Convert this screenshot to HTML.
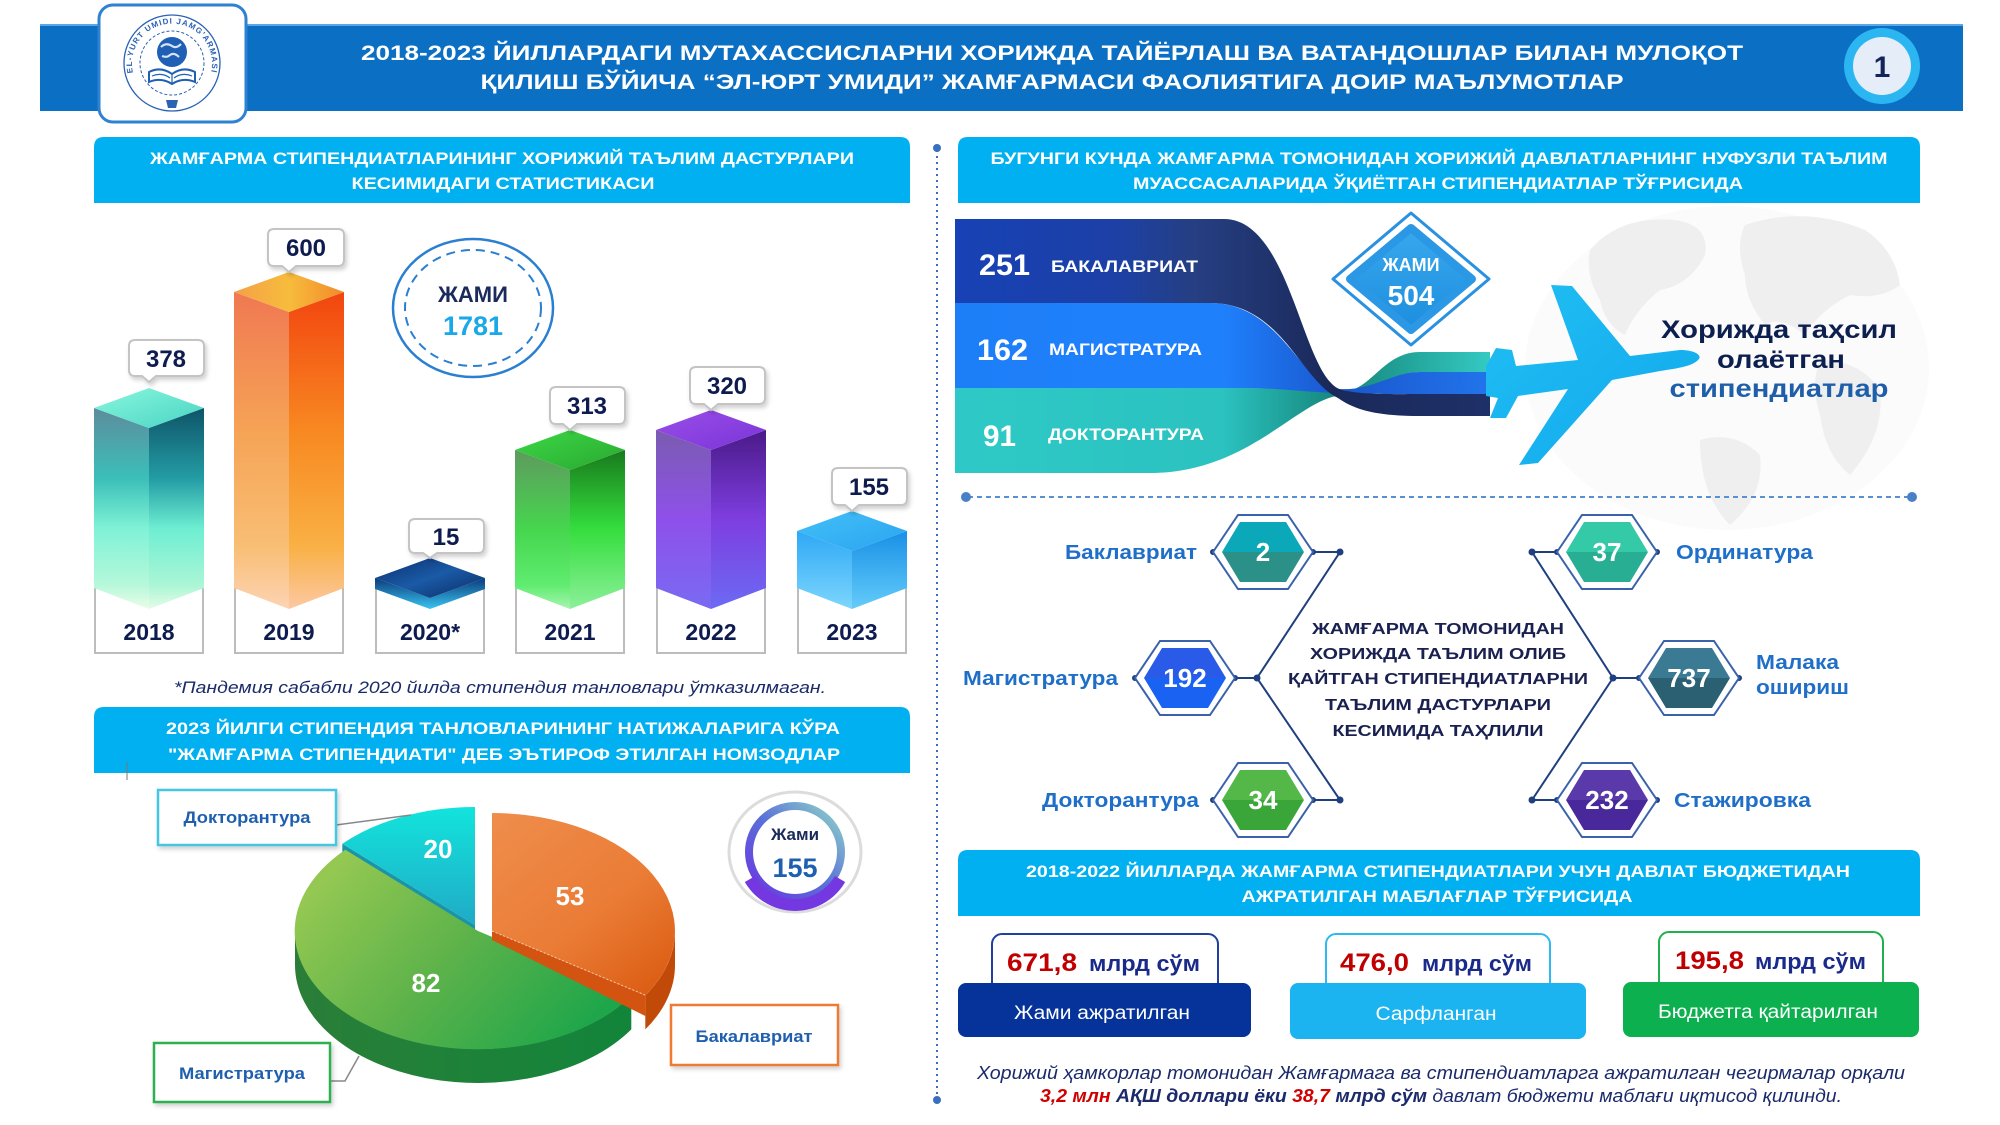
<!DOCTYPE html>
<html><head><meta charset="utf-8">
<style>
html,body{margin:0;padding:0;background:#fff;}
svg{display:block;}
text{font-family:"Liberation Sans","DejaVu Sans",sans-serif;}
</style></head><body>
<svg width="2000" height="1125" viewBox="0 0 2000 1125" xmlns="http://www.w3.org/2000/svg">
<defs>
  <linearGradient id="g18l" x1="0" y1="0" x2="0" y2="1"><stop offset="0" stop-color="#5d8c9c"/><stop offset="0.35" stop-color="#3bbfb8"/><stop offset="0.6" stop-color="#7ff2d6"/><stop offset="0.88" stop-color="#b6f8da"/><stop offset="1" stop-color="#eafde8"/></linearGradient>
  <linearGradient id="g18r" x1="0" y1="0" x2="0" y2="1"><stop offset="0" stop-color="#0e5468"/><stop offset="0.35" stop-color="#239ca4"/><stop offset="0.6" stop-color="#6eeed2"/><stop offset="0.88" stop-color="#aaf6d6"/><stop offset="1" stop-color="#e4fce6"/></linearGradient>
  <linearGradient id="g18t" x1="0" y1="0" x2="1" y2="1"><stop offset="0" stop-color="#8af7de"/><stop offset="1" stop-color="#48d4c4"/></linearGradient>

  <linearGradient id="g19l" x1="0" y1="0" x2="0" y2="1"><stop offset="0" stop-color="#f07852"/><stop offset="0.45" stop-color="#f6a456"/><stop offset="0.8" stop-color="#f8be74"/><stop offset="1" stop-color="#fdd3b3"/></linearGradient>
  <linearGradient id="g19r" x1="0" y1="0" x2="0" y2="1"><stop offset="0" stop-color="#f2450f"/><stop offset="0.45" stop-color="#f88a22"/><stop offset="0.8" stop-color="#f9b044"/><stop offset="1" stop-color="#fcc8a2"/></linearGradient>
  <linearGradient id="g19t" x1="0" y1="0" x2="1" y2="0"><stop offset="0" stop-color="#f4a048"/><stop offset="0.5" stop-color="#f7bc3c"/><stop offset="1" stop-color="#f28a2a"/></linearGradient>

  <linearGradient id="g21l" x1="0" y1="0" x2="0" y2="1"><stop offset="0" stop-color="#5e9a5e"/><stop offset="0.5" stop-color="#46d64e"/><stop offset="0.85" stop-color="#60ec70"/><stop offset="1" stop-color="#a8f4b0"/></linearGradient>
  <linearGradient id="g21r" x1="0" y1="0" x2="0" y2="1"><stop offset="0" stop-color="#187a1c"/><stop offset="0.5" stop-color="#35de3e"/><stop offset="1" stop-color="#8cf09a"/></linearGradient>
  <linearGradient id="g21t" x1="0" y1="0" x2="1" y2="1"><stop offset="0" stop-color="#3cd846"/><stop offset="1" stop-color="#2aa830"/></linearGradient>

  <linearGradient id="g22l" x1="0" y1="0" x2="0" y2="1"><stop offset="0" stop-color="#7a5cb0"/><stop offset="0.5" stop-color="#8e50ea"/><stop offset="1" stop-color="#7a6af2"/></linearGradient>
  <linearGradient id="g22r" x1="0" y1="0" x2="0" y2="1"><stop offset="0" stop-color="#4a1a88"/><stop offset="0.5" stop-color="#7e3ee0"/><stop offset="1" stop-color="#6c6af4"/></linearGradient>
  <linearGradient id="g22t" x1="0" y1="0" x2="1" y2="1"><stop offset="0" stop-color="#9a4ee8"/><stop offset="1" stop-color="#7a34d8"/></linearGradient>

  <linearGradient id="g23l" x1="0" y1="0" x2="0" y2="1"><stop offset="0" stop-color="#2ea8f6"/><stop offset="1" stop-color="#7cd6fc"/></linearGradient>
  <linearGradient id="g23r" x1="0" y1="0" x2="0" y2="1"><stop offset="0" stop-color="#1890e6"/><stop offset="1" stop-color="#64ccfa"/></linearGradient>
  <linearGradient id="g23t" x1="0" y1="0" x2="1" y2="1"><stop offset="0" stop-color="#44c0f8"/><stop offset="1" stop-color="#2aa4f0"/></linearGradient>

  <linearGradient id="g20t" x1="0" y1="0" x2="1" y2="1"><stop offset="0" stop-color="#0a2f6e"/><stop offset="0.5" stop-color="#1a5aa6"/><stop offset="1" stop-color="#0a2a62"/></linearGradient>
  <linearGradient id="g20s" x1="0" y1="0" x2="0" y2="1"><stop offset="0" stop-color="#0c3a7a"/><stop offset="1" stop-color="#38c4f2"/></linearGradient>

  <linearGradient id="pOr" gradientUnits="userSpaceOnUse" x1="492" y1="813" x2="640" y2="1000"><stop offset="0" stop-color="#ef8d4c"/><stop offset="0.6" stop-color="#ea7c36"/><stop offset="1" stop-color="#dc5e14"/></linearGradient>
  <linearGradient id="pGr" gradientUnits="userSpaceOnUse" x1="340" y1="860" x2="560" y2="1060"><stop offset="0" stop-color="#94c852"/><stop offset="0.5" stop-color="#5cb24a"/><stop offset="1" stop-color="#1ea64a"/></linearGradient>
  <linearGradient id="pGs" x1="0" y1="0" x2="1" y2="0"><stop offset="0" stop-color="#2a7e38"/><stop offset="1" stop-color="#12853a"/></linearGradient>
  <linearGradient id="pCy" gradientUnits="userSpaceOnUse" x1="0" y1="807" x2="0" y2="925"><stop offset="0" stop-color="#12e4dc"/><stop offset="1" stop-color="#20aac6"/></linearGradient>
  <linearGradient id="ring" x1="0" y1="1" x2="1" y2="0"><stop offset="0" stop-color="#6a34e2"/><stop offset="0.5" stop-color="#5a70d8"/><stop offset="1" stop-color="#8fd6c8"/></linearGradient>

  <linearGradient id="sNv" gradientUnits="userSpaceOnUse" x1="955" y1="0" x2="1490" y2="0"><stop offset="0" stop-color="#1741b5"/><stop offset="0.3" stop-color="#1c40a6"/><stop offset="0.45" stop-color="#263f82"/><stop offset="0.7" stop-color="#1a295a"/><stop offset="1" stop-color="#1e3068"/></linearGradient>
  <linearGradient id="sBl" gradientUnits="userSpaceOnUse" x1="955" y1="0" x2="1490" y2="0"><stop offset="0" stop-color="#1d7ff8"/><stop offset="0.5" stop-color="#1f80fc"/><stop offset="0.72" stop-color="#1a56cc"/><stop offset="1" stop-color="#2274ec"/></linearGradient>
  <linearGradient id="sTl" gradientUnits="userSpaceOnUse" x1="955" y1="0" x2="1490" y2="0"><stop offset="0" stop-color="#2ec9c6"/><stop offset="0.5" stop-color="#2bc2c0"/><stop offset="0.72" stop-color="#15857a"/><stop offset="1" stop-color="#34cac2"/></linearGradient>
  <linearGradient id="plane" x1="0" y1="0" x2="1" y2="1"><stop offset="0" stop-color="#20bff4"/><stop offset="1" stop-color="#12a8ec"/></linearGradient>
  <linearGradient id="dia" x1="0" y1="0" x2="0" y2="1"><stop offset="0" stop-color="#38a8ee"/><stop offset="1" stop-color="#1d8ede"/></linearGradient>

  <path id="logoArc" d="M137,83 A40,40 0 1 1 207,83" fill="none"/>
  <filter id="sh" x="-10%" y="-10%" width="130%" height="140%"><feDropShadow dx="2" dy="3" stdDeviation="2" flood-color="#000" flood-opacity="0.18"/></filter>
</defs>

<rect width="2000" height="1125" fill="#fff"/>

<!-- HEADER -->
<rect x="40" y="24" width="1923" height="87" fill="#0b6fc4"/>
<rect x="40" y="24" width="1923" height="2" fill="#5aa8e8"/>
<rect x="99" y="5" width="147" height="117" rx="14" fill="#fff" stroke="#2f82d2" stroke-width="3"/>
<circle cx="172" cy="63" r="48" fill="none" stroke="#2a62b4" stroke-width="1.3"/>
<circle cx="172" cy="63" r="32" fill="none" stroke="#2a62b4" stroke-width="1" stroke-dasharray="3 2"/>
<text font-size="8" font-weight="bold" fill="#2a62b4" letter-spacing="1"><textPath href="#logoArc" startOffset="50%" text-anchor="middle">EL-YURT UMIDI JAMG'ARMASI</textPath></text>
<circle cx="172" cy="52" r="15" fill="#1f5fb5"/>
<path d="M161,47 q5,-5 11,-1 q4,3 9,-2 M162,56 q5,2 8,-1 q4,-3 9,2" stroke="#d6e4f6" fill="none" stroke-width="2.2"/>
<path d="M149,72 Q161,66 172,74 Q183,66 195,72 L195,82 Q183,77 172,84 Q161,77 149,82 Z" fill="#fff" stroke="#1f5fb5" stroke-width="2"/>
<path d="M172,74 V84 M152,76 Q162,72 170,78 M174,78 Q182,72 192,76" stroke="#1f5fb5" fill="none" stroke-width="1.2"/>
<path d="M166,100 h12 l-2,8 h-8 z" fill="#2a62b4"/>

<text x="1052" y="60" text-anchor="middle" font-size="21" font-weight="bold" fill="#fff" textLength="1382" lengthAdjust="spacingAndGlyphs">2018-2023 ЙИЛЛАРДАГИ МУТАХАССИСЛАРНИ ХОРИЖДА ТАЙЁРЛАШ ВА ВАТАНДОШЛАР БИЛАН МУЛОҚОТ</text>
<text x="1052" y="89" text-anchor="middle" font-size="21" font-weight="bold" fill="#fff" textLength="1143" lengthAdjust="spacingAndGlyphs">ҚИЛИШ БЎЙИЧА “ЭЛ-ЮРТ УМИДИ” ЖАМҒАРМАСИ ФАОЛИЯТИГА ДОИР МАЪЛУМОТЛАР</text>

<circle cx="1882" cy="66" r="38" fill="#2bb6f2"/>
<circle cx="1882" cy="66" r="29" fill="#e4edf8"/>
<text x="1882" y="77" text-anchor="middle" font-size="30" font-weight="bold" fill="#13245a">1</text>

<!-- SECTION HEADERS -->
<path d="M94,203 V147 Q94,137 104,137 H900 Q910,137 910,147 V203 Z" fill="#00b0f0"/>
<text x="502" y="164" text-anchor="middle" font-size="17" font-weight="bold" fill="#fff" textLength="704" lengthAdjust="spacingAndGlyphs">ЖАМҒАРМА СТИПЕНДИАТЛАРИНИНГ ХОРИЖИЙ ТАЪЛИМ ДАСТУРЛАРИ</text>
<text x="503" y="189" text-anchor="middle" font-size="17" font-weight="bold" fill="#fff" textLength="303" lengthAdjust="spacingAndGlyphs">КЕСИМИДАГИ СТАТИСТИКАСИ</text>

<path d="M94,773 V717 Q94,707 104,707 H900 Q910,707 910,717 V773 Z" fill="#00b0f0"/>
<text x="503" y="734" text-anchor="middle" font-size="17" font-weight="bold" fill="#fff" textLength="674" lengthAdjust="spacingAndGlyphs">2023 ЙИЛГИ СТИПЕНДИЯ  ТАНЛОВЛАРИНИНГ  НАТИЖАЛАРИГА  КЎРА</text>
<text x="504" y="760" text-anchor="middle" font-size="17" font-weight="bold" fill="#fff" textLength="672" lengthAdjust="spacingAndGlyphs">"ЖАМҒАРМА СТИПЕНДИАТИ"  ДЕБ ЭЪТИРОФ ЭТИЛГАН НОМЗОДЛАР</text>
<line x1="127" y1="762" x2="127" y2="780" stroke="#777" stroke-width="1"/>

<path d="M958,203 V147 Q958,137 968,137 H1910 Q1920,137 1920,147 V203 Z" fill="#00b0f0"/>
<text x="1439" y="164" text-anchor="middle" font-size="17" font-weight="bold" fill="#fff" textLength="897" lengthAdjust="spacingAndGlyphs">БУГУНГИ КУНДА ЖАМҒАРМА ТОМОНИДАН ХОРИЖИЙ ДАВЛАТЛАРНИНГ НУФУЗЛИ ТАЪЛИМ</text>
<text x="1438" y="189" text-anchor="middle" font-size="17" font-weight="bold" fill="#fff" textLength="610" lengthAdjust="spacingAndGlyphs">МУАССАСАЛАРИДА ЎҚИЁТГАН СТИПЕНДИАТЛАР ТЎҒРИСИДА</text>

<path d="M958,916 V860 Q958,850 968,850 H1910 Q1920,850 1920,860 V916 Z" fill="#00b0f0"/>
<text x="1438" y="877" text-anchor="middle" font-size="17" font-weight="bold" fill="#fff" textLength="824" lengthAdjust="spacingAndGlyphs">2018-2022 ЙИЛЛАРДА ЖАМҒАРМА СТИПЕНДИАТЛАРИ УЧУН ДАВЛАТ БЮДЖЕТИДАН</text>
<text x="1437" y="902" text-anchor="middle" font-size="17" font-weight="bold" fill="#fff" textLength="391" lengthAdjust="spacingAndGlyphs">АЖРАТИЛГАН МАБЛАҒЛАР ТЎҒРИСИДА</text>

<!-- divider -->
<line x1="937" y1="150" x2="937" y2="1098" stroke="#3a6fc0" stroke-width="2" stroke-dasharray="2 4"/>
<circle cx="937" cy="148" r="4" fill="#3a6fc0"/>
<circle cx="937" cy="1100" r="4" fill="#3a6fc0"/>

<!-- BAR CHART -->
<g fill="#fff" stroke="#bdbdbd" stroke-width="2">
  <rect x="95" y="588" width="108" height="65"/>
  <rect x="235" y="588" width="108" height="65"/>
  <rect x="376" y="588" width="108" height="65"/>
  <rect x="516" y="588" width="108" height="65"/>
  <rect x="657" y="588" width="108" height="65"/>
  <rect x="798" y="588" width="108" height="65"/>
</g>
<polygon points="94,408 149,428 149,609 94,588" fill="url(#g18l)"/>
<polygon points="149,428 204,408 204,588 149,609" fill="url(#g18r)"/>
<polygon points="149,388 204,408 149,428 94,408" fill="url(#g18t)"/>
<polygon points="234,292 289,312 289,609 234,588" fill="url(#g19l)"/>
<polygon points="289,312 344,292 344,588 289,609" fill="url(#g19r)"/>
<polygon points="289,272 344,292 289,312 234,292" fill="url(#g19t)"/>
<polygon points="375,578 430,598 430,609 375,589" fill="url(#g20s)"/>
<polygon points="430,598 485,578 485,589 430,609" fill="url(#g20s)"/>
<polygon points="430,558 485,578 430,598 375,578" fill="url(#g20t)"/>
<polygon points="515,450 570,470 570,609 515,588" fill="url(#g21l)"/>
<polygon points="570,470 625,450 625,588 570,609" fill="url(#g21r)"/>
<polygon points="570,430 625,450 570,470 515,450" fill="url(#g21t)"/>
<polygon points="656,430 711,450 711,609 656,588" fill="url(#g22l)"/>
<polygon points="711,450 766,430 766,588 711,609" fill="url(#g22r)"/>
<polygon points="711,410 766,430 711,450 656,430" fill="url(#g22t)"/>
<polygon points="797,531 852,551 852,609 797,588" fill="url(#g23l)"/>
<polygon points="852,551 907,531 907,588 852,609" fill="url(#g23r)"/>
<polygon points="852,511 907,531 852,551 797,531" fill="url(#g23t)"/>

<g fill="#fff" stroke="#c4c4c4" stroke-width="2" filter="url(#sh)">
  <path d="M135,340 H198 Q204,340 204,346 V370 Q204,376 198,376 H156 L149,382 L142,376 H135 Q129,376 129,370 V346 Q129,340 135,340 Z"/>
  <path d="M274,229 H338 Q344,229 344,235 V260 Q344,266 338,266 H296 L289,272 L282,266 H274 Q268,266 268,260 V235 Q268,229 274,229 Z"/>
  <path d="M415,519 H478 Q484,519 484,525 V547 Q484,553 478,553 H437 L430,558 L423,553 H415 Q409,553 409,547 V525 Q409,519 415,519 Z"/>
  <path d="M556,387 H619 Q625,387 625,393 V418 Q625,424 619,424 H577 L570,430 L563,424 H556 Q550,424 550,418 V393 Q550,387 556,387 Z"/>
  <path d="M696,367 H759 Q765,367 765,373 V398 Q765,404 759,404 H718 L711,410 L704,404 H696 Q690,404 690,398 V373 Q690,367 696,367 Z"/>
  <path d="M838,468 H901 Q907,468 907,474 V499 Q907,505 901,505 H859 L852,511 L845,505 H838 Q832,505 832,499 V474 Q832,468 838,468 Z"/>
</g>
<g font-size="24" font-weight="bold" fill="#0d1b4f" text-anchor="middle">
  <text x="166" y="367">378</text>
  <text x="306" y="256">600</text>
  <text x="446" y="545">15</text>
  <text x="587" y="414">313</text>
  <text x="727" y="394">320</text>
  <text x="869" y="495">155</text>
</g>
<g font-size="23" font-weight="bold" fill="#0d1b4f" text-anchor="middle">
  <text x="149" y="640">2018</text>
  <text x="289" y="640">2019</text>
  <text x="430" y="640">2020*</text>
  <text x="570" y="640">2021</text>
  <text x="711" y="640">2022</text>
  <text x="852" y="640">2023</text>
</g>

<ellipse cx="473" cy="308" rx="80" ry="69" fill="#fff" stroke="#2a7fd0" stroke-width="2.5"/>
<ellipse cx="473" cy="308" rx="68" ry="58" fill="none" stroke="#2a7fd0" stroke-width="2" stroke-dasharray="9 6"/>
<text x="473" y="302" text-anchor="middle" font-size="22" font-weight="bold" fill="#1a2a5a">ЖАМИ</text>
<text x="473" y="335" text-anchor="middle" font-size="27" font-weight="bold" fill="#1aa8e8">1781</text>

<text x="500" y="693" text-anchor="middle" font-size="17" font-style="italic" fill="#1a2a6a" textLength="652" lengthAdjust="spacingAndGlyphs">*Пандемия сабабли 2020 йилда стипендия танловлари ўтказилмаган.</text>

<!-- PIE -->
<path d="M631.3,995.4 A183,118 0 0 1 295,931 L295,965 A183,118 0 0 0 631.3,1029.4 Z" fill="url(#pGs)"/>
<path d="M475,925 L342.3,843.8 L342.3,856 L475,935 Z" fill="#1896a8"/>
<path d="M478,931 L631.3,995.4 A183,118 0 1 1 345.3,849.8 Z" fill="url(#pGr)"/>
<path d="M492,931 L645.3,995.4 L645.3,1016 L492,940 Z" fill="#d25410"/>
<path d="M675,931 A183,118 0 0 1 645.3,995.4 L645.3,1029.4 A183,118 0 0 0 675,965 Z" fill="#c24a08"/>
<path d="M492,931 L492,813 A183,118 0 0 1 645.3,995.4 Z" fill="url(#pOr)"/>
<line x1="492" y1="931" x2="645" y2="995" stroke="#f6c8a8" stroke-width="1" stroke-dasharray="2 2"/>
<path d="M475,925 L342.3,843.8 A183,118 0 0 1 475,807 Z" fill="url(#pCy)"/>

<g font-size="26" font-weight="bold" fill="#fff" text-anchor="middle">
  <text x="570" y="905">53</text>
  <text x="426" y="992">82</text>
  <text x="438" y="858">20</text>
</g>

<line x1="336" y1="825" x2="411" y2="815" stroke="#888" stroke-width="1.5"/>
<polyline points="330,1081 345,1081 359,1056" fill="none" stroke="#888" stroke-width="1.5"/>

<g filter="url(#sh)">
  <rect x="158" y="790" width="178" height="55" fill="#fff" stroke="#44c6e2" stroke-width="2.5"/>
  <rect x="671" y="1005" width="167" height="60" fill="#fff" stroke="#f07a30" stroke-width="2.5"/>
  <rect x="154" y="1043" width="176" height="59" fill="#fff" stroke="#2eb050" stroke-width="2.5"/>
</g>
<g font-size="17" font-weight="bold" fill="#1f5fb0" text-anchor="middle">
  <text x="247" y="823" textLength="127" lengthAdjust="spacingAndGlyphs">Докторантура</text>
  <text x="754" y="1042" textLength="117" lengthAdjust="spacingAndGlyphs">Бакалавриат</text>
  <text x="242" y="1079" textLength="126" lengthAdjust="spacingAndGlyphs">Магистратура</text>
</g>

<ellipse cx="795" cy="852" rx="66" ry="60" fill="#fff" stroke="#dcdcdc" stroke-width="3"/>
<circle cx="795" cy="852" r="46" fill="none" stroke="url(#ring)" stroke-width="8"/>
<path d="M750,879 A52,52 0 0 0 840,879" fill="none" stroke="#7438e0" stroke-width="12"/>
<text x="795" y="840" text-anchor="middle" font-size="17" font-weight="bold" fill="#1a2a5a">Жами</text>
<text x="795" y="877" text-anchor="middle" font-size="27" font-weight="bold" fill="#1f5fb0">155</text>

<!-- RIGHT TOP -->
<ellipse cx="1727" cy="368" rx="202" ry="162" fill="#fbfbfb"/>
<g fill="#efefef">
  <path d="M1590,250 q30,-35 85,-30 q35,5 30,35 q-15,30 -45,35 q-25,20 -35,45 q-20,-10 -25,-35 q-15,-25 -10,-50z"/>
  <path d="M1745,225 q60,-20 120,5 q30,20 35,55 q-20,15 -50,10 q-30,15 -45,40 q-25,-20 -40,-10 q-20,-25 -20,-50 q-10,-30 0,-50z"/>
  <path d="M1820,360 q40,0 60,30 q5,45 -30,85 q-25,-20 -30,-60 q-10,-30 0,-55z"/>
  <path d="M1700,440 q35,-10 60,15 q5,40 -30,70 q-30,-30 -30,-85z"/>
</g>

<path d="M955,388 H1240 C1290,388 1318,392 1340,392 C1372,392 1382,352 1420,352 H1490 V372 H1420 C1392,372 1372,395 1345,395 C1300,395 1252,473 1150,473 H955 Z" fill="url(#sTl)"/>
<path d="M955,303 H1210 C1282,303 1300,386 1340,389 C1372,391 1392,372 1420,372 H1490 V394 H1420 C1382,394 1362,394 1340,393 C1300,392 1282,388 1240,388 H955 Z" fill="url(#sBl)"/>
<path d="M955,219 H1224 C1292,219 1302,380 1342,390 C1362,395 1400,394 1420,394 H1490 V416 H1420 C1380,416 1356,411 1338,398 C1300,380 1282,303 1210,303 H955 Z" fill="url(#sNv)"/>

<g font-weight="bold" fill="#fff">
  <text x="979" y="275" font-size="30" textLength="51" lengthAdjust="spacingAndGlyphs">251</text>
  <text x="1051" y="272" font-size="17" textLength="147" lengthAdjust="spacingAndGlyphs">БАКАЛАВРИАТ</text>
  <text x="977" y="360" font-size="30" textLength="51" lengthAdjust="spacingAndGlyphs">162</text>
  <text x="1049" y="355" font-size="17" textLength="153" lengthAdjust="spacingAndGlyphs">МАГИСТРАТУРА</text>
  <text x="983" y="446" font-size="30" textLength="33" lengthAdjust="spacingAndGlyphs">91</text>
  <text x="1048" y="440" font-size="17" textLength="156" lengthAdjust="spacingAndGlyphs">ДОКТОРАНТУРА</text>
</g>

<path d="M1486,366 L1496,348 L1512,350 L1516,366 L1578,360 L1551,285 L1572,286 L1630,356 L1680,350 C1696,350 1703,356 1698,360 C1692,366 1680,368 1660,371 L1612,380 L1538,463 L1519,465 L1568,389 L1518,396 L1506,418 L1490,418 L1498,398 L1486,396 Z" fill="url(#plane)"/>

<polygon points="1411,213 1489,279 1411,345 1333,279" fill="#fff" stroke="#2a90e0" stroke-width="3" stroke-linejoin="round"/>
<polygon points="1411,228 1472,279 1411,330 1350,279" fill="url(#dia)" stroke="#2b98e6" stroke-width="8" stroke-linejoin="round"/>
<text x="1411" y="271" text-anchor="middle" font-size="18" font-weight="bold" fill="#fff">ЖАМИ</text>
<text x="1411" y="305" text-anchor="middle" font-size="28" font-weight="bold" fill="#fff">504</text>

<g font-weight="bold" text-anchor="middle" font-size="25">
  <text x="1779" y="338" fill="#0d1f4f" textLength="236" lengthAdjust="spacingAndGlyphs">Хорижда таҳсил</text>
  <text x="1781" y="368" fill="#0d1f4f" textLength="128" lengthAdjust="spacingAndGlyphs">олаётган</text>
  <text x="1779" y="397" fill="#1f5faa" textLength="219" lengthAdjust="spacingAndGlyphs">стипендиатлар</text>
</g>

<line x1="968" y1="497" x2="1910" y2="497" stroke="#5a8fd0" stroke-width="2" stroke-dasharray="5 4"/>
<circle cx="966" cy="497" r="5" fill="#4a80c8"/>
<circle cx="1912" cy="497" r="5" fill="#4a80c8"/>

<!-- HEXAGONS -->
<g stroke="#1f3f7f" stroke-width="2" fill="none">
  <polyline points="1313,552 1340,552 1257,678 1340,800 1313,800"/>
  <line x1="1232" y1="678" x2="1257" y2="678"/>
  <polyline points="1557,552 1532,552 1613,678 1532,800 1557,800"/>
  <line x1="1613" y1="678" x2="1640" y2="678"/>
</g>
<g fill="#1f3f7f">
  <circle cx="1340" cy="552" r="3.5"/><circle cx="1257" cy="678" r="3.5"/><circle cx="1340" cy="800" r="3.5"/>
  <circle cx="1532" cy="552" r="3.5"/><circle cx="1613" cy="678" r="3.5"/><circle cx="1532" cy="800" r="3.5"/>
  <circle cx="1213" cy="552" r="3"/><circle cx="1313" cy="552" r="3"/>
  <circle cx="1135" cy="678" r="3"/><circle cx="1235" cy="678" r="3"/>
  <circle cx="1213" cy="800" r="3"/><circle cx="1313" cy="800" r="3"/>
  <circle cx="1557" cy="552" r="3"/><circle cx="1657" cy="552" r="3"/>
  <circle cx="1639" cy="678" r="3"/><circle cx="1739" cy="678" r="3"/>
  <circle cx="1557" cy="800" r="3"/><circle cx="1657" cy="800" r="3"/>
</g>
<g stroke="#3a62aa" stroke-width="2" fill="#fff">
  <polygon points="1213,552 1238,515 1288,515 1313,552 1288,589 1238,589"/>
  <polygon points="1135,678 1160,641 1210,641 1235,678 1210,715 1160,715"/>
  <polygon points="1213,800 1238,763 1288,763 1313,800 1288,837 1238,837"/>
  <polygon points="1557,552 1582,515 1632,515 1657,552 1632,589 1582,589"/>
  <polygon points="1639,678 1664,641 1714,641 1739,678 1714,715 1664,715"/>
  <polygon points="1557,800 1582,763 1632,763 1657,800 1632,837 1582,837"/>
</g>
<g>
  <polygon points="1222,552 1240,522 1286,522 1304,552" fill="#0aa8b8"/>
  <polygon points="1222,552 1304,552 1286,582 1240,582" fill="#2a9088"/>
  <polygon points="1144,678 1162,648 1208,648 1226,678" fill="#2a5ae8"/>
  <polygon points="1144,678 1226,678 1208,708 1162,708" fill="#1a62f2"/>
  <polygon points="1222,800 1240,770 1286,770 1304,800" fill="#54b848"/>
  <polygon points="1222,800 1304,800 1286,830 1240,830" fill="#3aa63a"/>
  <polygon points="1566,552 1584,522 1630,522 1648,552" fill="#34caa8"/>
  <polygon points="1566,552 1648,552 1630,582 1584,582" fill="#28ae92"/>
  <polygon points="1648,678 1666,648 1712,648 1730,678" fill="#3a7a92"/>
  <polygon points="1648,678 1730,678 1712,708 1666,708" fill="#2a6072"/>
  <polygon points="1566,800 1584,770 1630,770 1648,800" fill="#5a3aaa"/>
  <polygon points="1566,800 1648,800 1630,830 1584,830" fill="#48289a"/>
</g>
<g font-size="26" font-weight="bold" fill="#fff" text-anchor="middle">
  <text x="1263" y="561">2</text>
  <text x="1185" y="687">192</text>
  <text x="1263" y="809">34</text>
  <text x="1607" y="561">37</text>
  <text x="1689" y="687">737</text>
  <text x="1607" y="809">232</text>
</g>
<g font-size="20" font-weight="bold" fill="#1f6fc8">
  <text x="1197" y="559" text-anchor="end" textLength="132" lengthAdjust="spacingAndGlyphs">Баклавриат</text>
  <text x="1118" y="685" text-anchor="end" textLength="155" lengthAdjust="spacingAndGlyphs">Магистратура</text>
  <text x="1199" y="807" text-anchor="end" textLength="157" lengthAdjust="spacingAndGlyphs">Докторантура</text>
  <text x="1676" y="559" textLength="137" lengthAdjust="spacingAndGlyphs">Ординатура</text>
  <text x="1756" y="669" textLength="83" lengthAdjust="spacingAndGlyphs">Малака</text>
  <text x="1756" y="694" textLength="93" lengthAdjust="spacingAndGlyphs">ошириш</text>
  <text x="1674" y="807" textLength="137" lengthAdjust="spacingAndGlyphs">Стажировка</text>
</g>
<g font-size="16" font-weight="bold" fill="#1a2050" text-anchor="middle">
  <text x="1438" y="634" textLength="252" lengthAdjust="spacingAndGlyphs">ЖАМҒАРМА ТОМОНИДАН</text>
  <text x="1438" y="659" textLength="256" lengthAdjust="spacingAndGlyphs">ХОРИЖДА ТАЪЛИМ ОЛИБ</text>
  <text x="1438" y="684" textLength="300" lengthAdjust="spacingAndGlyphs">ҚАЙТГАН СТИПЕНДИАТЛАРНИ</text>
  <text x="1438" y="710" textLength="226" lengthAdjust="spacingAndGlyphs">ТАЪЛИМ ДАСТУРЛАРИ</text>
  <text x="1438" y="736" textLength="211" lengthAdjust="spacingAndGlyphs">КЕСИМИДА ТАҲЛИЛИ</text>
</g>

<!-- BUDGET CARDS -->
<rect x="992" y="934" width="226" height="60" rx="10" fill="#fff" stroke="#2040a0" stroke-width="2"/>
<rect x="958" y="983" width="293" height="54" rx="8" fill="#05339a"/>
<rect x="1326" y="934" width="224" height="60" rx="10" fill="#fff" stroke="#30b8f0" stroke-width="2"/>
<rect x="1290" y="983" width="296" height="56" rx="8" fill="#1bb4f0"/>
<rect x="1659" y="932" width="224" height="60" rx="10" fill="#fff" stroke="#20b050" stroke-width="2"/>
<rect x="1623" y="982" width="296" height="55" rx="8" fill="#0cb04e"/>

<g font-weight="bold">
  <text x="1007" y="971" font-size="25" fill="#c00000" textLength="70" lengthAdjust="spacingAndGlyphs">671,8</text>
  <text x="1089" y="971" font-size="22" fill="#1a2a8a" textLength="111" lengthAdjust="spacingAndGlyphs">млрд сўм</text>
  <text x="1340" y="971" font-size="25" fill="#c00000" textLength="69" lengthAdjust="spacingAndGlyphs">476,0</text>
  <text x="1422" y="971" font-size="22" fill="#1a2a8a" textLength="110" lengthAdjust="spacingAndGlyphs">млрд сўм</text>
  <text x="1675" y="969" font-size="25" fill="#c00000" textLength="69" lengthAdjust="spacingAndGlyphs">195,8</text>
  <text x="1755" y="969" font-size="22" fill="#1a2a8a" textLength="111" lengthAdjust="spacingAndGlyphs">млрд сўм</text>
</g>
<g font-size="19" fill="#fff" text-anchor="middle">
  <text x="1102" y="1019" textLength="176" lengthAdjust="spacingAndGlyphs">Жами ажратилган</text>
  <text x="1436" y="1020" textLength="121" lengthAdjust="spacingAndGlyphs">Сарфланган</text>
  <text x="1768" y="1018" textLength="220" lengthAdjust="spacingAndGlyphs">Бюджетга қайтарилган</text>
</g>

<text x="1441" y="1079" text-anchor="middle" font-size="18" font-style="italic" fill="#1a2a6a" textLength="928" lengthAdjust="spacingAndGlyphs">Хорижий ҳамкорлар томонидан Жамғармага ва стипендиатларга ажратилган чегирмалар орқали</text>
<text x="1441" y="1102" text-anchor="middle" font-size="18" font-style="italic" fill="#1a2a6a" textLength="802" lengthAdjust="spacingAndGlyphs"><tspan fill="#d00000" font-weight="bold">3,2 млн</tspan><tspan font-weight="bold"> АҚШ доллари ёки </tspan><tspan fill="#d00000" font-weight="bold">38,7</tspan><tspan font-weight="bold"> млрд сўм</tspan> давлат бюджети  маблағи иқтисод қилинди.</text>

</svg>
</body></html>
